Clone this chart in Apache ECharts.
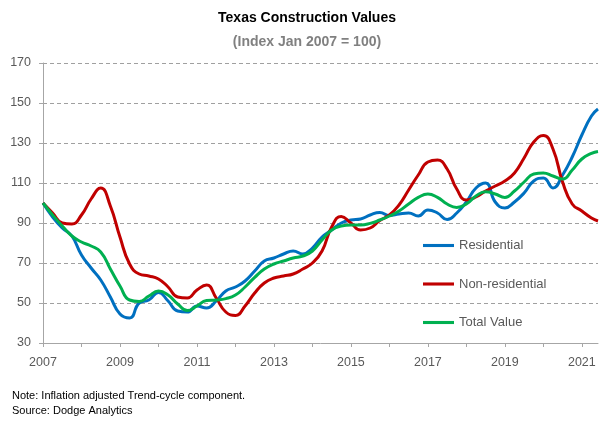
<!DOCTYPE html>
<html>
<head>
<meta charset="utf-8">
<script src="https://cdn.jsdelivr.net/npm/echarts@6/dist/echarts.min.js"></script>
<style>html,body{margin:0;padding:0;background:#fff}#c{width:614px;height:429px}</style>
</head>
<body>
<div id="c"></div>
<script>
const times = [2007.00,2007.25,2007.50,2007.75,2008.00,2008.25,2008.50,2008.75,2009.00,2009.25,2009.50,2009.75,
2010.00,2010.25,2010.50,2010.75,2011.00,2011.25,2011.50,2011.75,2012.00,2012.25,2012.50,2012.75,
2013.00,2013.25,2013.50,2013.75,2014.00,2014.25,2014.50,2014.75,2015.00,2015.25,2015.50,2015.75,
2016.00,2016.25,2016.50,2016.75,2017.00,2017.25,2017.50,2017.75,2018.00,2018.25,2018.50,2018.75,
2019.00,2019.25,2019.50,2019.75,2020.00,2020.25,2020.50,2020.75,2021.00,2021.25,2021.42];

const residential = [100,93,87.5,83.5,74,67.5,61.5,53,44.5,42.5,50,51.5,
55.3,51,46,45.5,48.5,47.5,51,56,58,61,66,71,
72.5,74.5,76,74.5,77.5,83,86.5,90,91.5,92,94,95.3,
93.7,94.5,95,93.5,96.5,95,91.7,95,100.5,107.5,110,100.5,
97.5,100.5,105,111,112.5,107.5,114,123,134,143.5,147];

const nonResidential = [100,95,90,89.5,94,102,107.5,98.5,83,69.5,64.5,63.5,
62,58,53,52.5,56.5,59,52.5,45.5,43.8,48.5,55,60,
62.5,63.5,64.5,67,70,76,88,93.3,90,86.5,87.5,91.2,
94,99,106.5,114,120.5,121.5,117,107,101.5,103,106,108.5,
111,115,122.5,130.5,133.8,127,110.5,99.5,96,92.5,91];

const totalValue = [100,94,88.5,83.5,80.5,78.5,75.5,67,58.5,51.5,50.8,53.5,
56,54,49.5,46.2,48.5,51.2,51.5,52.2,54,58,62.8,67,
69.5,71,72.5,73.5,76,81.5,86.5,88.5,89,89,89.8,91.5,
93.5,96,99.5,102.8,104.5,102.8,99.5,97.8,99.5,103.5,105.6,104.5,
102.8,106,110.5,114.5,115,113.5,112,116.5,122,124.8,125.8];

const yearTicks = [2007,2008,2009,2010,2011,2012,2013,2014,2015,2016,2017,2018,2019,2020,2021];
const yearLabels = [2007,2009,2011,2013,2015,2017,2019,2021];
const seriesNames = ['Residential','Non-residential','Total Value'];
const colors = ['#0070C0','#C00000','#00B050'];

const zip = arr => times.map((t,i)=>[t,arr[i]]);
const font = 'Liberation Sans, Arial, sans-serif';

const chart = echarts.init(document.getElementById('c'));
chart.setOption({
  animation:false,
  color: colors,
  title:[{
    text:'Texas Construction Values',
    left:'center', top:6,
    textStyle:{fontFamily:font,fontSize:14,fontWeight:'bold',color:'#000'}
  },{
    text:'(Index Jan 2007 = 100)',
    left:'center', top:30,
    textStyle:{fontFamily:font,fontSize:14,fontWeight:'bold',color:'#808080'}
  }],
  grid:{left:43,right:16,top:63,bottom:86},
  legend:{
    orient:'vertical', left:418, top:234, itemGap:25.5,
    itemWidth:31, itemHeight:14,
    icon:'path://M0,5.5 L30,5.5 L30,8.5 L0,8.5 Z',
    data:seriesNames,
    textStyle:{fontFamily:font,fontSize:13,color:'#595959'}
  },
  xAxis:{
    type:'value', min:2007, max:2021.42,
    axisLine:{show:true,lineStyle:{color:'#A6A6A6',width:1}},
    axisTick:{show:true,length:4,customValues:yearTicks,lineStyle:{color:'#A6A6A6'}},
    axisLabel:{customValues:yearLabels,fontFamily:font,fontSize:12.5,color:'#595959',margin:13,formatter:v=>String(v)},
    splitLine:{show:false}
  },
  yAxis:{
    type:'value', min:30, max:170, interval:20,
    axisLine:{show:true,lineStyle:{color:'#A6A6A6',width:1}},
    axisTick:{show:true,length:4,lineStyle:{color:'#A6A6A6'}},
    axisLabel:{fontFamily:font,fontSize:12.5,color:'#595959',margin:12},
    splitLine:{show:true,lineStyle:{color:'#A0A0A0',type:[4,3],width:1}}
  },
  series:[
    {name:seriesNames[0],type:'line',smooth:true,showSymbol:false,data:zip(residential),lineStyle:{width:3,color:colors[0]}},
    {name:seriesNames[1],type:'line',smooth:true,showSymbol:false,data:zip(nonResidential),lineStyle:{width:3,color:colors[1]}},
    {name:seriesNames[2],type:'line',smooth:true,showSymbol:false,data:zip(totalValue),lineStyle:{width:3,color:colors[2]}}
  ],
  graphic:[
    {type:'text',left:12,top:390,style:{text:'Note: Inflation adjusted Trend-cycle component.',fontFamily:font,fontSize:11,fill:'#000'}},
    {type:'text',left:12,top:405,style:{text:'Source: Dodge Analytics',fontFamily:font,fontSize:11,fill:'#000'}}
  ]
});
</script>
</body>
</html>
